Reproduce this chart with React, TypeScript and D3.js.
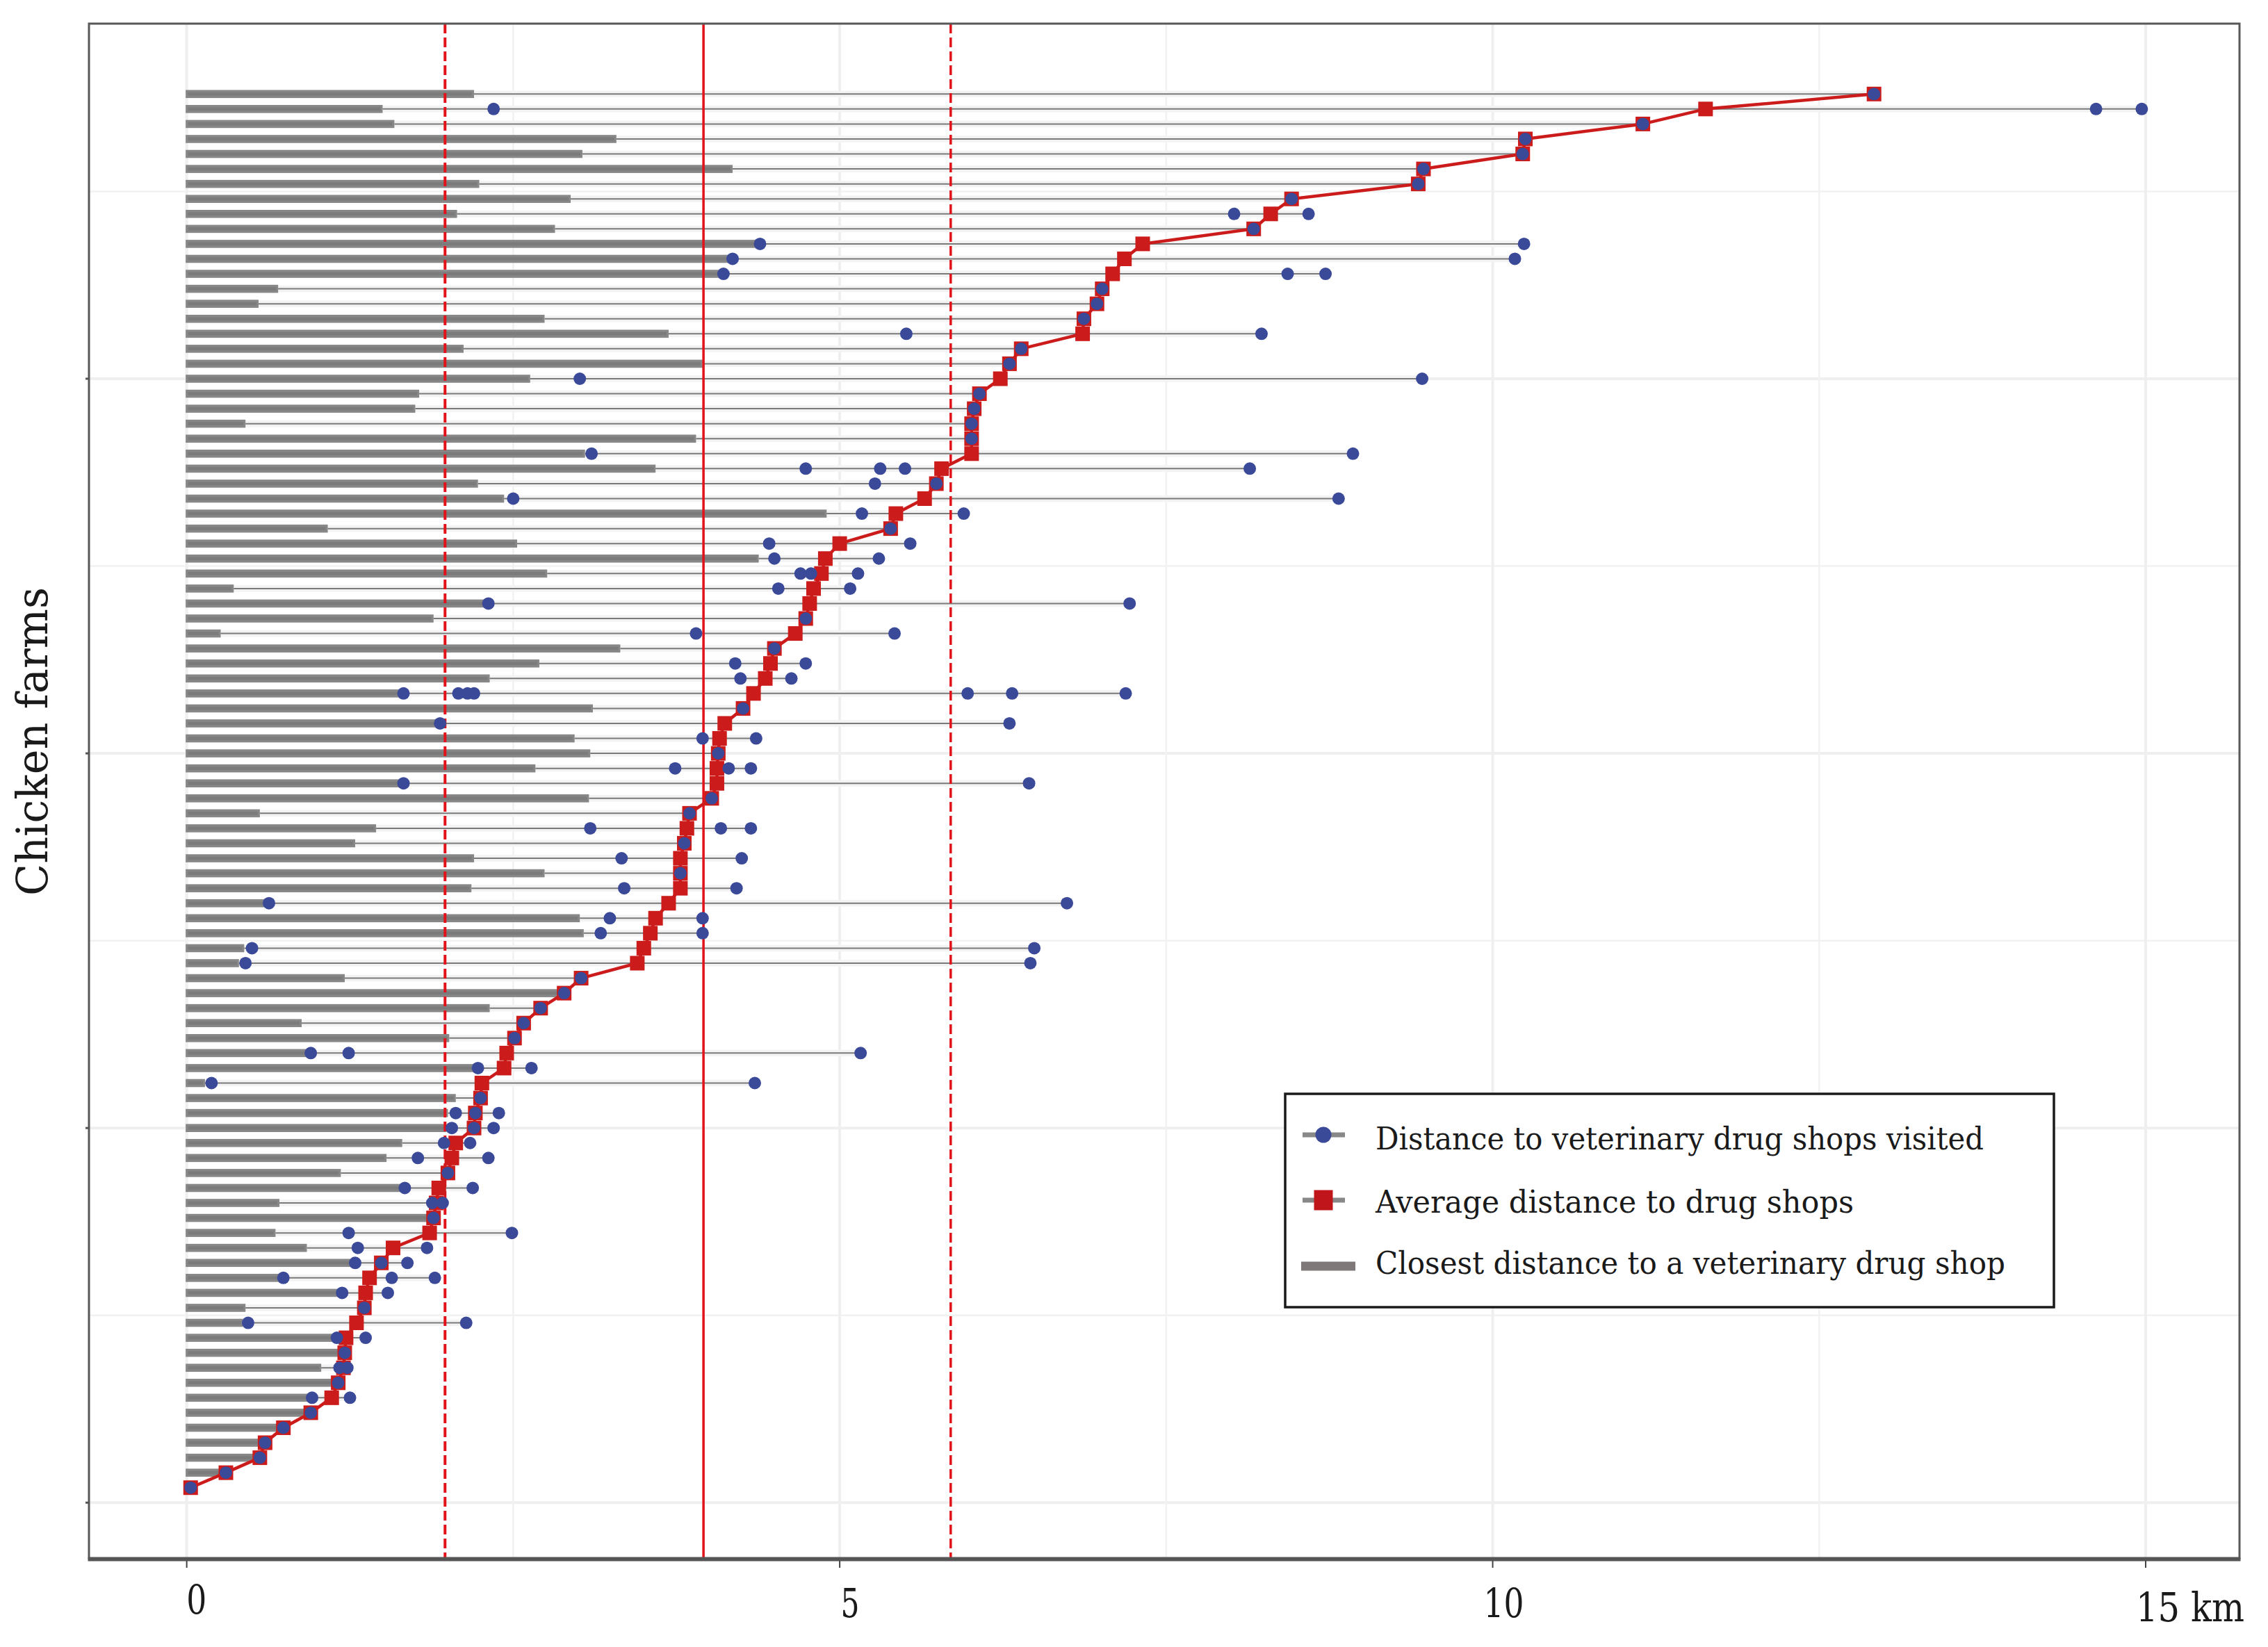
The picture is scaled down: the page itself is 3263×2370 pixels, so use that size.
import React from "react";
import * as d3 from "d3";

// Farms listed from the top row (largest average) to the bottom row.
const closestKm: number[] = [
  2.2, 1.5, 1.59, 3.29, 3.03, 4.18, 2.24, 2.94, 2.07, 2.82,
  4.39, 4.18, 4.1, 0.7, 0.55, 2.74, 3.69, 2.12, 3.95, 2.63,
  1.78, 1.75, 0.45, 3.9, 3.05, 3.59, 2.23, 2.43, 4.9, 1.08,
  2.53, 4.38, 2.76, 0.36, 2.28, 1.89, 0.26, 3.32, 2.7, 2.32,
  1.66, 3.11, 1.94, 2.97, 3.09, 2.67, 1.66, 3.08, 0.56, 1.45,
  1.29, 2.2, 2.74, 2.18, 0.62, 3.01, 3.04, 0.44, 0.4, 1.21,
  2.85, 2.32, 0.88, 2.01, 0.96, 2.21, 0.14, 2.06, 2.0, 1.99,
  1.65, 1.53, 1.18, 1.65, 0.71, 1.86, 0.68, 0.92, 1.29, 0.74,
  1.19, 0.45, 0.43, 1.15, 1.17, 1.03, 1.13, 0.95, 0.92, 0.71,
  0.58, 0.54, 0.27, 0.0,
];

const averageKm: number[] = [
  12.92, 11.63, 11.15, 10.25, 10.23, 9.47, 9.43, 8.46, 8.3, 8.17,
  7.32, 7.18, 7.09, 7.01, 6.97, 6.87, 6.86, 6.39, 6.3, 6.23,
  6.07, 6.03, 6.01, 6.01, 6.01, 5.78, 5.74, 5.65, 5.43, 5.39,
  5.0, 4.89, 4.86, 4.8, 4.77, 4.74, 4.66, 4.5, 4.47, 4.43,
  4.34, 4.26, 4.12, 4.08, 4.07, 4.06, 4.06, 4.02, 3.85, 3.83,
  3.81, 3.78, 3.78, 3.78, 3.69, 3.59, 3.55, 3.5, 3.45, 3.02,
  2.89, 2.71, 2.58, 2.51, 2.45, 2.43, 2.26, 2.25, 2.21, 2.2,
  2.06, 2.03, 2.0, 1.93, 1.91, 1.89, 1.86, 1.58, 1.49, 1.4,
  1.37, 1.36, 1.3, 1.22, 1.21, 1.2, 1.16, 1.11, 0.95, 0.74,
  0.6, 0.56, 0.3, 0.03,
];

const visitedKm: number[][] = [
  [12.92], [2.35, 14.62, 14.97], [11.15], [10.25], [10.23],
  [9.47], [9.43], [8.46], [8.02, 8.59], [8.17],
  [4.39, 10.24], [4.18, 10.17], [4.11, 8.43, 8.72], [7.01], [6.97],
  [6.87], [5.51, 8.23], [6.39], [6.3], [3.01, 9.46],
  [6.07], [6.03], [6.01], [6.01], [3.1, 8.93],
  [4.74, 5.31, 5.5, 8.14], [5.27, 5.74], [2.5, 8.82], [5.17, 5.95], [5.39],
  [4.46, 5.54], [4.5, 5.3], [4.7, 4.78, 5.14], [4.53, 5.08], [2.31, 7.22],
  [4.74], [3.9, 5.42], [4.5], [4.2, 4.74], [4.24, 4.63],
  [1.66, 2.08, 2.15, 2.2, 5.98, 6.32, 7.19], [4.26], [1.94, 6.3], [3.95, 4.36], [4.07],
  [3.74, 4.15, 4.32], [1.66, 6.45], [4.02], [3.85], [3.09, 4.09, 4.32],
  [3.81], [3.33, 4.25], [3.78], [3.35, 4.21], [0.63, 6.74],
  [3.24, 3.95], [3.17, 3.95], [0.5, 6.49], [0.45, 6.46], [3.02],
  [2.89], [2.71], [2.58], [2.51], [0.95, 1.24, 5.16],
  [2.23, 2.64], [0.19, 4.35], [2.25], [2.06, 2.21, 2.39], [2.03, 2.2, 2.35],
  [1.97, 2.17], [1.77, 2.31], [2.0], [1.67, 2.19], [1.88, 1.96],
  [1.89], [1.24, 2.49], [1.31, 1.84], [1.29, 1.49, 1.69], [0.74, 1.57, 1.9],
  [1.19, 1.54], [1.36], [0.47, 2.14], [1.15, 1.37], [1.21],
  [1.17, 1.23], [1.16], [0.96, 1.25], [0.95], [0.74],
  [0.6], [0.56], [0.3], [0.03],
];

const xTickValues: number[] = [0, 5, 10, 15];
const xTickLabels: string[] = ["0", "5", "10", "15 km"];
const xMinorValues: number[] = [2.5, 7.5, 12.5];
const yMajorValues: number[] = [0, 25, 50, 75];
const yMinorValues: number[] = [12.5, 37.5, 62.5, 87.5];
const meanKm = 3.957;
const lowerKm = 1.978;
const upperKm = 5.85;
const yTitle = "Chicken farms";
const legendLabels: string[] = [
  "Distance to veterinary drug shops visited",
  "Average distance to drug shops",
  "Closest distance to a veterinary drug shop",
];

const W = 3263;
const H = 2370;
const PL = 128, PR = 3222, PT = 34, PB = 2242;

const BLUE = "#3b4999";
const RED = "#cc1b1b";
const REF = "#e2121b";
const FONT = "'DejaVu Serif', 'Liberation Serif', serif";

export default function App() {
  const n = closestKm.length;
  const x = d3.scaleLinear().domain([-0.7485, 15.7185]).range([PL, PR]);
  const y = d3.scaleLinear().domain([-3.65, 98.65]).range([2241, 35]);
  const farmY = (j: number) => y(n - j);

  const avgLine = d3
    .line<number>()
    .x((d) => x(d))
    .y((_, j) => farmY(j))(averageKm) as string;

  const x0 = x(0);
  const sq = 21;

  const labelOffsets = [
    { dx: 14, base: 2322, w: 29, anchor: "middle" },
    { dx: 15, base: 2327, w: 27, anchor: "middle" },
    { dx: 16, base: 2327, w: 58, anchor: "middle" },
    { dx: -14, base: 2333, w: 156, anchor: "start" },
  ];

  const legendRows = [
    { cy: 1633, base: 1654, w: 875 },
    { cy: 1727, base: 1745, w: 688 },
    { cy: 1822, base: 1833, w: 906 },
  ];

  return (
    <div style={{ position: "absolute", left: 0, top: 0 }}>
      <svg width={W} height={H} viewBox={`0 0 ${W} ${H}`} xmlns="http://www.w3.org/2000/svg">
        <rect x={0} y={0} width={W} height={H} fill="#ffffff" />
        {/* grid */}
        {yMinorValues.map((v) => (
          <line key={"ym" + v} x1={PL} x2={PR} y1={y(v)} y2={y(v)} stroke="#f2f2f2" strokeWidth={2.5} />
        ))}
        {yMajorValues.map((v) => (
          <line key={"yM" + v} x1={PL} x2={PR} y1={y(v)} y2={y(v)} stroke="#efefef" strokeWidth={4} />
        ))}
        {xMinorValues.map((v) => (
          <line key={"xm" + v} x1={x(v)} x2={x(v)} y1={PT} y2={PB} stroke="#f2f2f2" strokeWidth={2.7} />
        ))}
        {xTickValues.map((v) => (
          <line key={"xM" + v} x1={x(v)} x2={x(v)} y1={PT} y2={PB} stroke="#efefef" strokeWidth={4} />
        ))}

        {/* light bands */}
        {visitedKm.map((vals, j) => {
          const m = d3.max(vals) as number;
          return (
            <rect key={"band" + j} x={x0 - 2} y={farmY(j) - 4.8} width={x(m) - x0 + 4} height={9.6} fill="#f3f3f3" />
          );
        })}
        {/* closest bars */}
        {closestKm.map((c, j) =>
          c > 0 ? (
            <g key={"bar" + j}>
              <rect x={x0 - 1.5} y={farmY(j) - 5.8} width={x(c) - x0 + 1.5} height={11.6} fill="#878787" />
              <rect x={x0 + 2} y={farmY(j) - 2.3} width={Math.max(0, x(c) - x0 - 5)} height={4.6} fill="#7b7b7b" />
            </g>
          ) : null
        )}
        {/* thin range lines */}
        {visitedKm.map((vals, j) => {
          const m = d3.max(vals) as number;
          return (
            <line key={"rl" + j} x1={x(closestKm[j])} x2={x(m)} y1={farmY(j)} y2={farmY(j)} stroke="#7a7a7a" strokeWidth={2} />
          );
        })}

        {/* reference lines */}
        <line x1={x(meanKm)} x2={x(meanKm)} y1={PT} y2={PB} stroke={REF} strokeWidth={3.5} />
        <line x1={x(lowerKm)} x2={x(lowerKm)} y1={PT} y2={PB} stroke={REF} strokeWidth={4} strokeDasharray="14 6" />
        <line x1={x(upperKm)} x2={x(upperKm)} y1={PT} y2={PB} stroke={REF} strokeWidth={3.5} strokeDasharray="14 6" />

        {/* average path + squares */}
        <path d={avgLine} fill="none" stroke={RED} strokeWidth={4.5} strokeLinejoin="round" />
        {averageKm.map((a, j) => (
          <rect key={"sq" + j} x={x(a) - sq / 2} y={farmY(j) - sq / 2} width={sq} height={sq} fill={RED} />
        ))}
        {/* visited dots */}
        {visitedKm.map((vals, j) =>
          vals.map((v, k) => <circle key={"d" + j + "_" + k} cx={x(v)} cy={farmY(j)} r={9} fill={BLUE} />)
        )}

        {/* panel border */}
        <rect x={PL} y={PT} width={PR - PL} height={PB - PT} fill="none" stroke="#585858" strokeWidth={3} />
        <line x1={PL - 1.5} x2={PR + 1.5} y1={2244} y2={2244} stroke="#555555" strokeWidth={5} />

        {/* y ticks */}
        {yMajorValues.map((v) => (
          <line key={"yt" + v} x1={PL - 5} x2={PL} y1={y(v)} y2={y(v)} stroke="#555555" strokeWidth={3} />
        ))}
        {/* x ticks and labels */}
        {xTickValues.map((v, k) => (
          <g key={"xt" + v}>
            <line x1={x(v)} x2={x(v)} y1={2246} y2={2256} stroke="#444444" strokeWidth={2} />
            <text
              x={x(v) + labelOffsets[k].dx}
              y={labelOffsets[k].base}
              textAnchor={labelOffsets[k].anchor as any}
              fontFamily={FONT}
              fontSize={57}
              fill="#1a1a1a"
              textLength={labelOffsets[k].w}
              lengthAdjust="spacingAndGlyphs"
            >
              {xTickLabels[k]}
            </text>
          </g>
        ))}

        {/* y title */}
        <text
          transform={`translate(68, ${(845 + 1289) / 2}) rotate(-90)`}
          textAnchor="middle"
          fontFamily={FONT}
          fontSize={62}
          fill="#1a1a1a"
          textLength={444}
          lengthAdjust="spacingAndGlyphs"
        >
          {yTitle}
        </text>

        {/* legend */}
        <rect x={1849} y={1574} width={1106} height={307} fill="#ffffff" stroke="#1a1a1a" strokeWidth={3.5} />
        {/* key 1 */}
        <line x1={1874} x2={1935} y1={legendRows[0].cy} y2={legendRows[0].cy} stroke="#888888" strokeWidth={7} />
        <circle cx={1904} cy={legendRows[0].cy} r={11.5} fill={BLUE} />
        {/* key 2 */}
        <line x1={1874} x2={1935} y1={legendRows[1].cy} y2={legendRows[1].cy} stroke="#888888" strokeWidth={7} />
        <rect x={1904 - 13.5} y={legendRows[1].cy - 14.5} width={27} height={29} fill="#c0161b" />
        {/* key 3 */}
        <rect x={1872} y={legendRows[2].cy - 6.5} width={78} height={13} fill="#7f7878" />
        {legendLabels.map((t, k) => (
          <text
            key={"lg" + k}
            x={1979}
            y={legendRows[k].base}
            fontFamily={FONT}
            fontSize={44}
            fill="#1a1a1a"
            textLength={legendRows[k].w}
            lengthAdjust="spacingAndGlyphs"
          >
            {t}
          </text>
        ))}
      </svg>
    </div>
  );
}
